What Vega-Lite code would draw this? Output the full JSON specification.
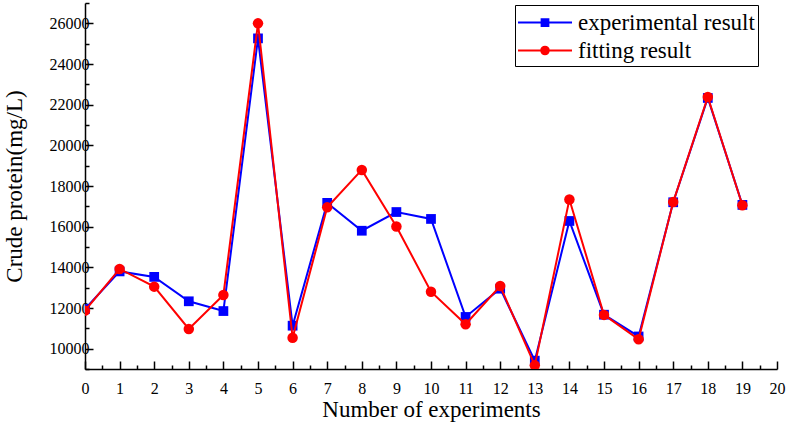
{
  "$schema": "https://vega.github.io/schema/vega-lite/v6.json",
  "width": 692,
  "height": 366,
  "autosize": {"type": "none"},
  "padding": {"left": 85, "top": 3, "right": 10, "bottom": 58},
  "background": "white",
  "config": {
    "font": "Liberation Serif",
    "view": {"stroke": null},
    "axis": {
      "grid": false,
      "domainColor": "black",
      "domainWidth": 1.5,
      "tickColor": "black",
      "tickWidth": 1.5,
      "labelFont": "Liberation Serif",
      "labelFontSize": 16,
      "labelColor": "black"
    }
  },
  "datasets": {
    "protein": [
      {"n": 0, "series": "experimental result", "value": 11950},
      {"n": 1, "series": "experimental result", "value": 13800},
      {"n": 2, "series": "experimental result", "value": 13530},
      {"n": 3, "series": "experimental result", "value": 12330},
      {"n": 4, "series": "experimental result", "value": 11850},
      {"n": 5, "series": "experimental result", "value": 25260},
      {"n": 6, "series": "experimental result", "value": 11130},
      {"n": 7, "series": "experimental result", "value": 17170},
      {"n": 8, "series": "experimental result", "value": 15800},
      {"n": 9, "series": "experimental result", "value": 16720},
      {"n": 10, "series": "experimental result", "value": 16380},
      {"n": 11, "series": "experimental result", "value": 11560},
      {"n": 12, "series": "experimental result", "value": 12950},
      {"n": 13, "series": "experimental result", "value": 9410},
      {"n": 14, "series": "experimental result", "value": 16280},
      {"n": 15, "series": "experimental result", "value": 11670},
      {"n": 16, "series": "experimental result", "value": 10600},
      {"n": 17, "series": "experimental result", "value": 17200},
      {"n": 18, "series": "experimental result", "value": 22330},
      {"n": 19, "series": "experimental result", "value": 17070},
      {"n": 0, "series": "fitting result", "value": 11870},
      {"n": 1, "series": "fitting result", "value": 13920},
      {"n": 2, "series": "fitting result", "value": 13050},
      {"n": 3, "series": "fitting result", "value": 10970},
      {"n": 4, "series": "fitting result", "value": 12640},
      {"n": 5, "series": "fitting result", "value": 26000},
      {"n": 6, "series": "fitting result", "value": 10540},
      {"n": 7, "series": "fitting result", "value": 16950},
      {"n": 8, "series": "fitting result", "value": 18790},
      {"n": 9, "series": "fitting result", "value": 16010},
      {"n": 10, "series": "fitting result", "value": 12800},
      {"n": 11, "series": "fitting result", "value": 11200},
      {"n": 12, "series": "fitting result", "value": 13080},
      {"n": 13, "series": "fitting result", "value": 9180},
      {"n": 14, "series": "fitting result", "value": 17340},
      {"n": 15, "series": "fitting result", "value": 11660},
      {"n": 16, "series": "fitting result", "value": 10460},
      {"n": 17, "series": "fitting result", "value": 17210},
      {"n": 18, "series": "fitting result", "value": 22380},
      {"n": 19, "series": "fitting result", "value": 17050}
    ]
  },
  "data": {"name": "protein"},
  "encoding": {
    "x": {
      "field": "n",
      "type": "quantitative",
      "scale": {"domain": [0, 20], "nice": false, "zero": false},
      "axis": {
        "title": "Number of experiments",
        "values": [0,0.5,1,1.5,2,2.5,3,3.5,4,4.5,5,5.5,6,6.5,7,7.5,8,8.5,9,9.5,10,10.5,11,11.5,12,12.5,13,13.5,14,14.5,15,15.5,16,16.5,17,17.5,18,18.5,19,19.5,20],
        "labelExpr": "datum.value % 1 === 0 ? '' + datum.value : ''",
        "tickSize": {"condition": {"test": "datum.value % 1 !== 0", "value": -4}, "value": -8},
        "labelPadding": 19,
        "labelFlush": false,
        "labelOverlap": false,
        "titleFont": "Liberation Serif",
        "titleFontSize": 23,
        "titleFontWeight": "normal",
        "titleColor": "black",
        "titleBaseline": "alphabetic",
        "titleY": 47
      }
    },
    "y": {
      "field": "value",
      "type": "quantitative",
      "scale": {"domain": [9000, 27000], "nice": false, "zero": false},
      "axis": {
        "title": "Crude protein(mg/L)",
        "values": [9000,10000,11000,12000,13000,14000,15000,16000,17000,18000,19000,20000,21000,22000,23000,24000,25000,26000,27000],
        "labelExpr": "datum.value % 2000 === 0 && datum.value >= 10000 && datum.value <= 26000 ? '' + datum.value : ''",
        "tickSize": {"condition": {"test": "datum.value % 2000 !== 0", "value": -4}, "value": -8},
        "labelPadding": 4,
        "labelFlush": false,
        "labelOverlap": false,
        "titleFont": "Liberation Serif",
        "titleFontSize": 23,
        "titleFontWeight": "normal",
        "titleColor": "black",
        "titleBaseline": "bottom",
        "titleX": -59,
        "encode": {
          "labels": {
            "update": {
              "dx": {"value": 6}
            }
          }
        }
      }
    },
    "color": {
      "field": "series",
      "type": "nominal",
      "scale": {"domain": ["experimental result", "fitting result"], "range": ["#0000ff", "#ff0000"]},
      "legend": {
        "title": null,
        "orient": "none",
        "legendX": 430,
        "legendY": 2,
        "strokeColor": "black",
        "fillColor": "white",
        "padding": 3,
        "labelFont": "Liberation Serif",
        "labelFontSize": 23,
        "labelColor": "black",
        "labelLimit": 0,
        "symbolOffset": 12.5,
        "labelOffset": 18.5,
        "rowPadding": 1,
        "symbolType": "M-2,0H2",
        "symbolSize": 729,
        "symbolStrokeWidth": 2,
        "encode": {
          "symbols": {
            "update": {
              "shape": {"signal": "datum.value === 'experimental result' ? 'M-2,0H2M-0.25,-0.25H0.25V0.25H-0.25Z' : 'M-2,0H2M0.28,0A0.28,0.28 0 1 1 -0.28,0A0.28,0.28 0 1 1 0.28,0Z'"},
              "fill": {"signal": "datum.value === 'experimental result' ? '#0000ff' : '#ff0000'"},
              "fillOpacity": {"value": 1}
            }
          }
        }
      }
    }
  },
  "layer": [
    {
      "transform": [{"filter": "datum.series === 'experimental result'"}],
      "mark": {"type": "line", "strokeWidth": 2, "clip": true}
    },
    {
      "transform": [{"filter": "datum.series === 'experimental result'"}],
      "mark": {"type": "point", "shape": "square", "filled": true, "opacity": 1, "size": 95, "clip": true}
    },
    {
      "transform": [{"filter": "datum.series === 'fitting result'"}],
      "mark": {"type": "line", "strokeWidth": 2, "clip": true}
    },
    {
      "transform": [{"filter": "datum.series === 'fitting result'"}],
      "mark": {"type": "point", "shape": "circle", "filled": true, "opacity": 1, "size": 110, "clip": true}
    }
  ]
}
